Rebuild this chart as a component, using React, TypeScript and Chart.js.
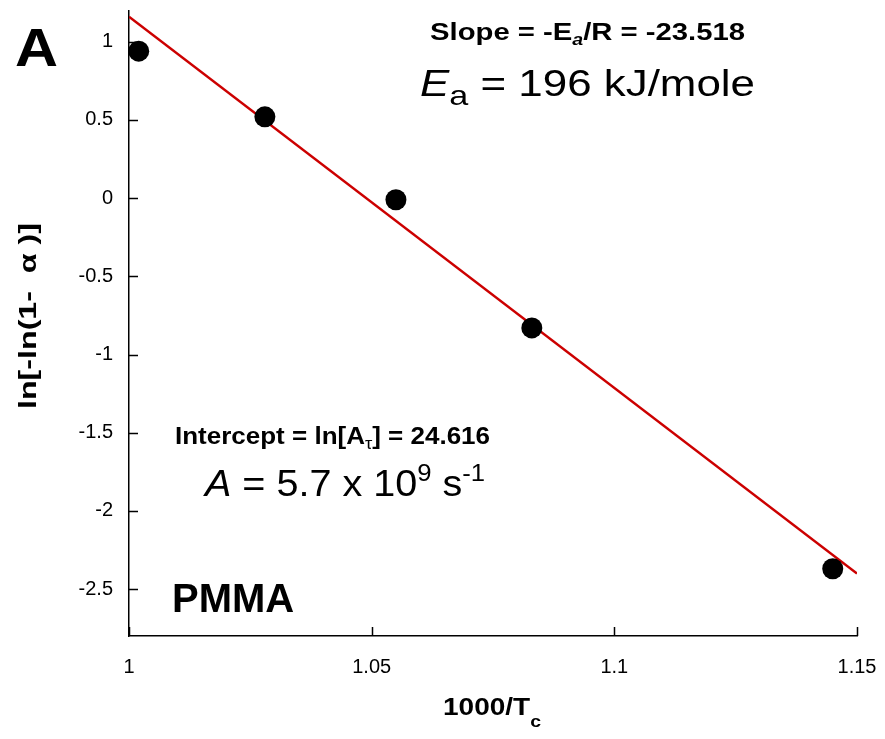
import React, { useEffect, useRef } from 'react';
import { Chart, registerables } from 'chart.js';

Chart.register(...registerables);

// Measured points: 1000/Tc vs ln[-ln(1-alpha)]
const xValues = [1.002, 1.028, 1.055, 1.083, 1.145];
const yValues = [0.94, 0.52, -0.01, -0.83, -2.37];

// Linear fit line end points
const fitX = [1.0, 1.15];
const fitY = [1.16, -2.4];

const xTickValues = [1, 1.05, 1.1, 1.15];
const xTickLabels = ['1', '1.05', '1.1', '1.15'];
const yTickValues = [-2.5, -2, -1.5, -1, -0.5, 0, 0.5, 1];
const yTickLabels = ['-2.5', '-2', '-1.5', '-1', '-0.5', '0', '0.5', '1'];

const FAMILY = '"Liberation Sans", Arial, Helvetica, sans-serif';

type Seg = { t: string; font: string; dy?: number };

function drawRich(ctx: CanvasRenderingContext2D, segs: Seg[], x: number, y: number, width?: number) {
  ctx.save();
  ctx.textBaseline = 'alphabetic';
  ctx.textAlign = 'left';
  ctx.fillStyle = '#000';
  let total = 0;
  const ws = segs.map((s) => {
    ctx.font = s.font;
    const w = ctx.measureText(s.t).width;
    total += w;
    return w;
  });
  const sx = width ? width / total : 1;
  ctx.translate(x, y);
  ctx.scale(sx, 1);
  let cx = 0;
  segs.forEach((s, i) => {
    ctx.font = s.font;
    ctx.fillText(s.t, cx, s.dy || 0);
    cx += ws[i];
  });
  ctx.restore();
}

const decorPlugin = {
  id: 'decor',
  afterDraw(chart: any) {
    const ctx: CanvasRenderingContext2D = chart.ctx;
    const xs = chart.scales.x;
    const ys = chart.scales.y;
    const area = chart.chartArea;

    // inward tick marks
    ctx.save();
    ctx.strokeStyle = '#000';
    ctx.lineWidth = 1.5;
    ctx.beginPath();
    yTickValues.forEach((v) => {
      const py = Math.round(ys.getPixelForValue(v)) + 0.5;
      ctx.moveTo(area.left, py);
      ctx.lineTo(area.left + 9, py);
    });
    xTickValues.forEach((v) => {
      const px = Math.round(xs.getPixelForValue(v)) + 0.5;
      ctx.moveTo(px, area.bottom);
      ctx.lineTo(px, area.bottom - 9);
    });
    ctx.stroke();
    ctx.restore();

    // Panel letter
    drawRich(ctx, [{ t: 'A', font: `bold 54px ${FAMILY}` }], 15, 66, 43);

    // Slope text
    drawRich(
      ctx,
      [
        { t: 'Slope = -E', font: `bold 24px ${FAMILY}` },
        { t: 'a', font: `italic bold 16px ${FAMILY}`, dy: 5 },
        { t: '/R = -23.518', font: `bold 24px ${FAMILY}` },
      ],
      430,
      40,
      315
    );

    // Ea text
    drawRich(
      ctx,
      [
        { t: 'E', font: `italic 36px ${FAMILY}` },
        { t: 'a', font: `28px ${FAMILY}`, dy: 9 },
        { t: ' = 196 kJ/mole', font: `36px ${FAMILY}` },
      ],
      420,
      96,
      335
    );

    // Intercept text
    drawRich(
      ctx,
      [
        { t: 'Intercept = ln[A', font: `bold 24px ${FAMILY}` },
        { t: 'τ', font: `17px ${FAMILY}`, dy: 5 },
        { t: '] = 24.616', font: `bold 24px ${FAMILY}` },
      ],
      175,
      444,
      315
    );

    // A text
    drawRich(
      ctx,
      [
        { t: 'A', font: `italic 37px ${FAMILY}` },
        { t: ' = 5.7 x 10', font: `37px ${FAMILY}` },
        { t: '9', font: `24px ${FAMILY}`, dy: -15 },
        { t: ' s', font: `37px ${FAMILY}` },
        { t: '-1', font: `24px ${FAMILY}`, dy: -15 },
      ],
      205,
      496,
      280
    );

    // PMMA
    drawRich(ctx, [{ t: 'PMMA', font: `bold 40px ${FAMILY}` }], 172, 612);

    // X axis title
    drawRich(
      ctx,
      [
        { t: '1000/T', font: `bold 23px ${FAMILY}` },
        { t: 'c', font: `bold 16px ${FAMILY}`, dy: 12 },
      ],
      443,
      715,
      98
    );

    // Y axis title (rotated)
    ctx.save();
    ctx.translate(36, 316);
    ctx.rotate(-Math.PI / 2);
    ctx.font = `bold 23px ${FAMILY}`;
    const yt = 'ln[-ln(1-  α )]';
    const w = ctx.measureText(yt).width;
    const target = 186;
    ctx.scale(target / w, 1);
    ctx.fillStyle = '#000';
    ctx.textBaseline = 'alphabetic';
    ctx.textAlign = 'left';
    ctx.fillText(yt, -w / 2, 0);
    ctx.restore();
  },
};

export default function App() {
  const ref = useRef<HTMLCanvasElement | null>(null);

  useEffect(() => {
    if (!ref.current) return;
    Chart.defaults.font.family = FAMILY;
    const chart = new Chart(ref.current, {
      type: 'scatter',
      data: {
        datasets: [
          {
            type: 'line',
            label: 'fit',
            data: fitX.map((x, i) => ({ x, y: fitY[i] })),
            borderColor: 'rgb(204,0,0)',
            borderWidth: 2.5,
            pointRadius: 0,
            fill: false,
            order: 2,
          } as any,
          {
            label: 'data',
            data: xValues.map((x, i) => ({ x, y: yValues[i] })),
            backgroundColor: '#000',
            borderColor: '#000',
            borderWidth: 0,
            pointRadius: 10.5,
            pointHoverRadius: 10.5,
            clip: false,
            order: 1,
          } as any,
        ],
      },
      options: {
        animation: false,
        responsive: false,
        maintainAspectRatio: false,
        layout: { padding: { left: 0, right: 28, top: 5, bottom: 0 } },
        plugins: {
          legend: { display: false },
          tooltip: { enabled: false },
        },
        scales: {
          x: {
            type: 'linear',
            min: 1,
            max: 1.15,
            afterBuildTicks: (s: any) => {
              s.ticks = xTickValues.map((value) => ({ value }));
            },
            afterFit: (s: any) => {
              s.height = 103;
              s.paddingLeft = 0;
              s.paddingRight = 0;
            },
            grid: { display: false, drawTicks: false },
            border: { display: true, color: '#000', width: 1.5 },
            ticks: {
              color: '#000',
              font: { size: 20, family: FAMILY },
              padding: 19,
              maxRotation: 0,
              autoSkip: false,
              callback: (v: any) => {
                const i = xTickValues.findIndex((t) => Math.abs(t - Number(v)) < 1e-9);
                return i >= 0 ? xTickLabels[i] : '';
              },
            },
          },
          y: {
            type: 'linear',
            min: -2.8,
            max: 1.2,
            afterBuildTicks: (s: any) => {
              s.ticks = yTickValues.map((value) => ({ value }));
            },
            afterFit: (s: any) => {
              s.width = 129;
              s.paddingTop = 0;
              s.paddingBottom = 0;
            },
            grid: { display: false, drawTicks: false },
            border: { display: true, color: '#000', width: 1.5 },
            ticks: {
              color: '#000',
              font: { size: 20, family: FAMILY },
              padding: 16,
              autoSkip: false,
              callback: (v: any) => {
                const i = yTickValues.findIndex((t) => Math.abs(t - Number(v)) < 1e-9);
                return i >= 0 ? yTickLabels[i] : '';
              },
            },
          },
        },
      },
      plugins: [decorPlugin],
    });
    return () => chart.destroy();
  }, []);

  return (
    <div style={{ position: 'absolute', left: 0, top: 0, width: 885, height: 739, background: '#fff' }}>
      <canvas ref={ref} width={885} height={739} style={{ display: 'block', width: 885, height: 739 }} />
    </div>
  );
}
